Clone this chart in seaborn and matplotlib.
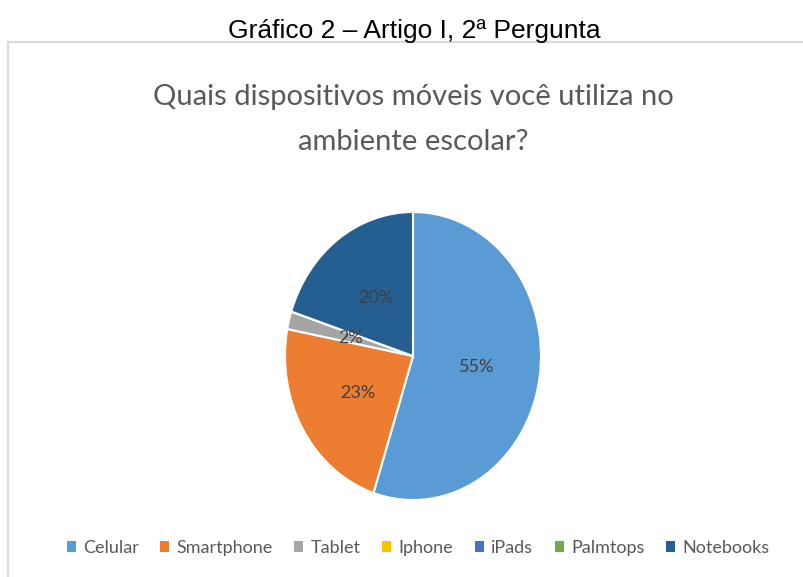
import matplotlib
matplotlib.use("Agg")
import matplotlib.pyplot as plt
from matplotlib.patches import Patch
from matplotlib.lines import Line2D
import seaborn as sns

categories = ["Celular", "Smartphone", "Tablet", "Iphone", "iPads", "Palmtops", "Notebooks"]
percentages = [55, 23, 2, 0, 0, 0, 20]
colors = ["#5B9BD5", "#ED7D31", "#A5A5A5", "#FFC000", "#4472C4", "#70AD47", "#255E91"]

outer_title = "Gráfico 2 – Artigo I, 2ª Pergunta"
chart_title = ["Quais dispositivos móveis você utiliza no", "ambiente escolar?"]

sns.set_theme(style="white")
palette = sns.color_palette(colors)

W, H = 804, 577
fig = plt.figure(figsize=(W / 100, H / 100), dpi=100)

# pie is a bit taller than wide in the reference (stretched picture)
ax = fig.add_axes([285 / W, (H - 500) / H, 256 / W, 288 / H])
wedges, texts, autotexts = ax.pie(
    percentages,
    colors=palette,
    startangle=90,
    counterclock=False,
    radius=1,
    autopct=lambda p: f"{p:.0f}%" if p > 0.5 else "",
    pctdistance=0.5,
    wedgeprops={"edgecolor": "white", "linewidth": 1.5},
    textprops={"color": "#404040", "fontsize": 13, "family": "Lato"},
)
ax.set_aspect("auto")
ax.set_xlim(-1, 1)
ax.set_ylim(-1, 1)
ax.axis("off")

# outer caption
fig.text(414 / W, 1 - 38 / H, outer_title, ha="center", va="baseline",
         fontsize=19, family="Liberation Sans", color="black")

# chart frame (only top and left visible)
fig.add_artist(Line2D([8 / W, 1.0], [1 - 42 / H, 1 - 42 / H], transform=fig.transFigure,
                      color="#D9D9D9", lw=1.5))
fig.add_artist(Line2D([8 / W, 8 / W], [1 - 42 / H, 0.0], transform=fig.transFigure,
                      color="#D9D9D9", lw=1.5))

fig.text(413 / W, 1 - 105 / H, chart_title[0], ha="center", va="baseline",
         fontsize=21, family="Lato", color="#595959")
fig.text(413 / W, 1 - 150 / H, chart_title[1], ha="center", va="baseline",
         fontsize=21, family="Lato", color="#595959")

handles = [Patch(facecolor=c, edgecolor="none") for c in palette]
fig.legend(handles, categories, loc="center", bbox_to_anchor=(418 / W, 1 - 548 / H),
           ncol=7, frameon=False, handlelength=0.5, handleheight=0.5,
           handletextpad=0.4, columnspacing=1.2,
           prop={"family": "Lato", "size": 13}, labelcolor="#595959")

fig.savefig("out.png", dpi=100, facecolor="white")
